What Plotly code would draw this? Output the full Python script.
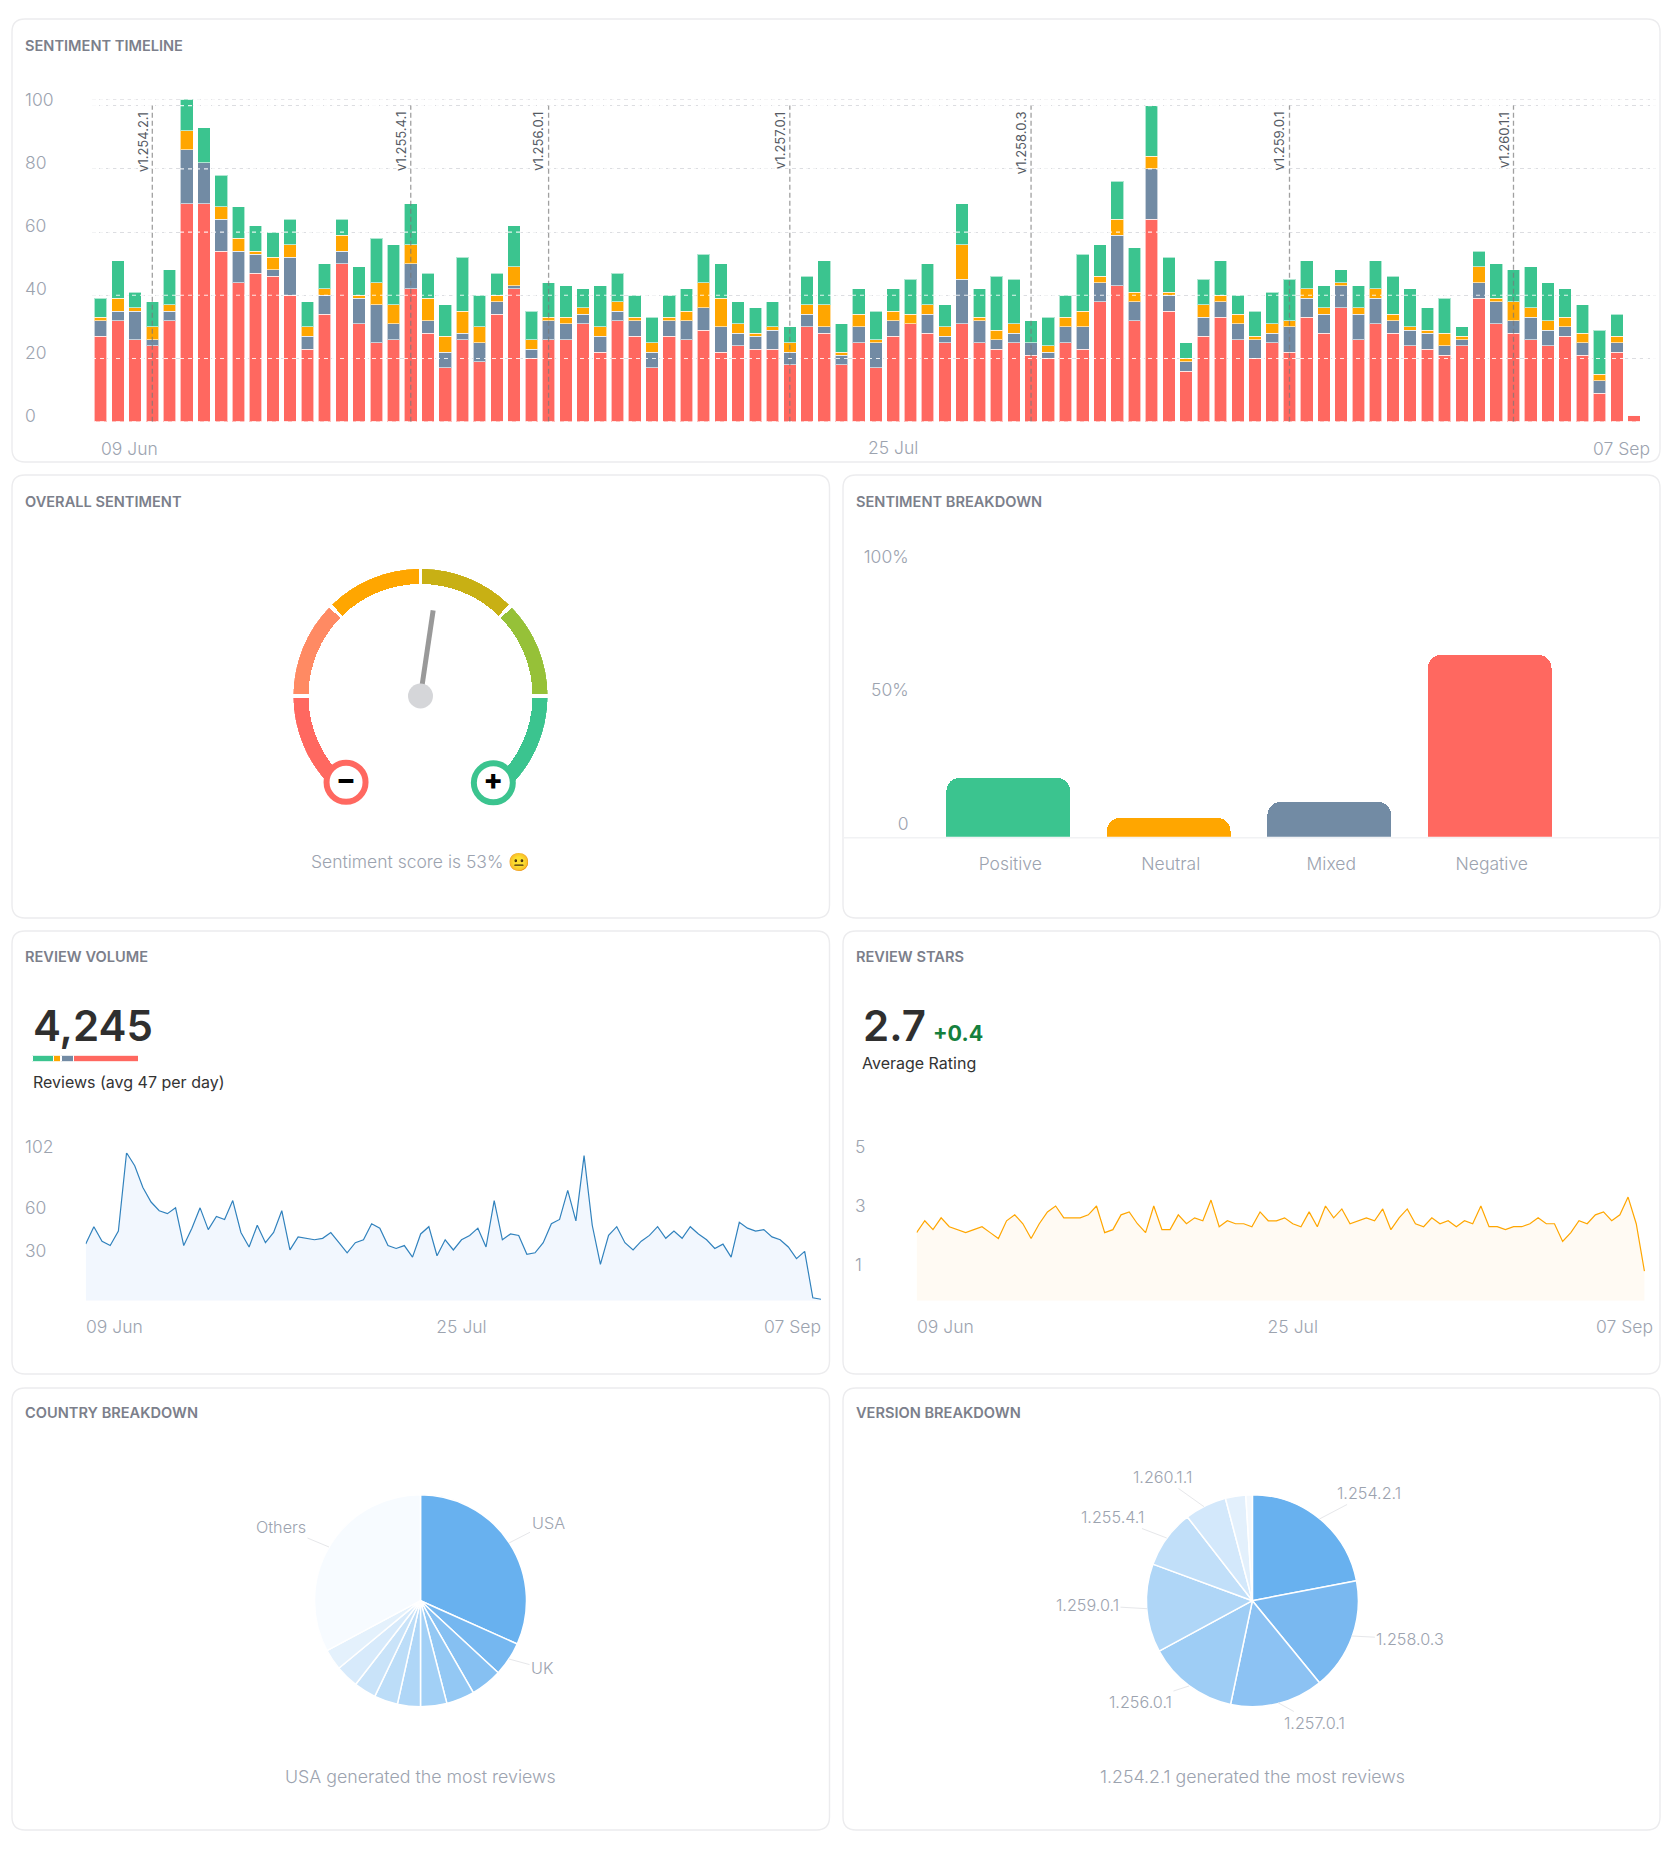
import pandas as pd
import plotly.graph_objects as go

W, H = 1678, 1858
FONT = "Inter"
C_POS, C_NEU, C_MIX, C_NEG = "#3bc48f", "#ffa600", "#728ba4", "#ff6860"
C_TICK, C_TITLE = "#9ca3af", "#7c7f8b"

# --- data -----------------------------------------------------------------
dates = pd.date_range("2024-06-09", "2024-09-07").strftime("%Y-%m-%d").tolist()
negative = [27,32,26,24,32,69,69,54,44,47,46,40,23,34,50,31,25,26,42,28,17,26,19,34,42,20,26,
            26,31,22,32,27,17,27,26,29,22,24,23,23,18,30,28,18,25,17,27,31,28,25,31,25,23,25,21,20,25,23,38,43,
            32,64,35,16,27,33,26,20,25,22,33,28,36,26,31,28,24,23,21,24,39,31,28,26,24,27,21,9,22,2]
mixed = [5,3,9,2,3,17,13,10,10,6,2,12,4,6,4,8,12,5,8,4,5,2,6,4,1,3,6,
         5,3,5,3,5,5,5,6,7,8,4,4,6,4,4,2,3,5,8,5,0,6,2,14,7,3,3,4,2,5,7,6,16,
         6,16,5,3,6,5,5,6,3,8,6,6,7,8,8,4,5,5,3,2,5,7,4,7,5,3,4,4,3,0]
neutral = [1,4,1,4,2,6,0,4,4,1,4,4,3,2,5,1,7,6,6,7,5,7,5,2,6,3,1,
           2,2,3,3,1,3,1,3,8,9,3,1,1,3,3,7,1,4,1,3,3,3,3,11,1,3,3,0,2,3,5,2,5,
           3,4,1,1,4,2,3,1,3,2,3,2,1,2,3,2,1,1,4,1,5,1,6,3,3,3,3,2,2,0]
positive = [6,12,5,8,11,10,11,10,10,8,8,8,8,8,5,9,14,19,13,8,10,17,10,7,13,9,11,
            10,6,13,9,7,8,7,7,9,11,7,8,8,5,9,14,9,8,9,7,11,13,7,13,9,17,14,7,9,7,18,10,12,
            14,16,11,5,8,11,6,8,10,13,9,7,4,7,9,12,12,7,11,3,5,11,10,13,12,9,9,14,7,0]
volume_last_day = [1]
volume = [a + b + c + d for a, b, c, d in zip(negative, mixed, neutral, positive)] + volume_last_day
stars = [2.3,2.7,2.4,2.8,2.5,2.4,2.3,2.4,2.5,2.3,2.1,2.7,2.9,2.6,2.1,2.6,3.0,3.2,2.8,2.8,2.8,2.9,3.2,2.3,2.4,
         2.9,3.0,2.6,2.3,3.2,2.4,2.4,2.9,2.6,2.8,2.7,3.4,2.5,2.7,2.6,2.6,2.5,3.0,2.7,2.7,2.8,2.6,2.5,3.0,2.5,
         3.2,2.8,3.1,2.6,2.7,2.8,2.7,3.1,2.4,2.8,3.1,2.6,2.5,2.8,2.6,2.7,2.5,2.7,2.6,3.2,2.5,2.5,2.4,2.5,2.5,
         2.6,2.8,2.6,2.6,2.0,2.3,2.7,2.6,2.9,3.0,2.7,2.9,3.5,2.6,1.0]
release_names = ["v1.254.2.1","v1.255.4.1","v1.256.0.1","v1.257.0.1","v1.258.0.3","v1.259.0.1","v1.260.1.1"]
release_dates = ["2024-06-12","2024-06-27","2024-07-05","2024-07-19","2024-08-02","2024-08-17","2024-08-30"]
timeline_ticks = [0,20,40,60,80,100,102]
timeline_ticktext = ["0","20","40","60","80","100",""]
breakdown_cats = ["Positive","Neutral","Mixed","Negative"]
breakdown_vals = [22,7,13,68]
share_vals = [20,7,12,61]
score = 53
gauge_segments = [50,45,45,45,45,50]
gauge_colors = [C_NEG,"#ff8a63",C_NEU,"#c8b014","#96c138",C_POS]
country_labels = ["USA","UK","c3","c4","c5","c6","c7","c8","c9","c10","Others"]
country_vals = [31.7,5.2,4.8,4.3,4.0,3.5,3.6,3.4,3.5,3.2,32.8]
country_colors = ["#68b1ef","#75b7f0","#86c0f2","#93c8f4","#a2d0f6","#afd6f7","#bcddf8","#c9e3f9","#d7eafb","#e4f1fc","#f7fbff"]
version_labels = ["1.254.2.1","1.258.0.3","1.257.0.1","1.256.0.1","1.259.0.1","1.255.4.1","1.260.1.1","v8","v9"]
version_vals = [22.0,17.1,14.2,13.8,13.5,8.9,6.4,3.1,1.0]
version_colors = ["#68b1ef","#79b8f0","#8cc2f3","#9ecdf5","#afd6f7","#c1dff9","#d3e8fb","#e3f0fc","#f4f9fe"]

# --- helpers --------------------------------------------------------------
def dx(a, b):
    return [a / W, b / W]
def dy(top, bot):
    return [1 - bot / H, 1 - top / H]
def px(v):
    return v / W
def py(v):
    return 1 - v / H
TICK = 17.5
def tfont(size=TICK, color=C_TICK, weight=300):
    return dict(family=FONT, size=size, color=color, weight=weight)

fig = go.Figure()
anns, shapes = [], []

def card(x0, x1, y0, y1, r=13):
    a, b, c, d = px(x0), px(x1), py(y0), py(y1)
    rx, ry = r / W, r / H
    path = (f"M {a+rx} {c} L {b-rx} {c} Q {b} {c} {b} {c-ry} L {b} {d+ry} Q {b} {d} {b-rx} {d} "
            f"L {a+rx} {d} Q {a} {d} {a} {d+ry} L {a} {c-ry} Q {a} {c} {a+rx} {c} Z")
    shapes.append(dict(type="path", path=path, xref="paper", yref="paper", layer="below",
                       line=dict(color="#ececee", width=1.4), fillcolor="white"))

def label(text, x, y, size=TICK, color=C_TICK, weight=300, anchor="left"):
    anns.append(dict(text=text, xref="paper", yref="paper", x=px(x), y=py(y), xanchor=anchor, yanchor="middle",
                     showarrow=False, font=tfont(size, color, weight)))

def edge_ticks(xref, y, first, last, right_shift=2):
    anns.append(dict(text="09 Jun", xref=xref, yref="paper", x=first, y=py(y), xanchor="left", yanchor="middle",
                     showarrow=False, font=tfont(), xshift=-2))
    anns.append(dict(text="07 Sep", xref=xref, yref="paper", x=last, y=py(y), xanchor="right", yanchor="middle",
                     showarrow=False, font=tfont(), xshift=right_shift))

def pie_label(text, cx, cy, tipx, tipy):
    anns.append(dict(text=text, xref="paper", yref="paper", x=px(tipx), y=py(tipy), ax=cx - tipx, ay=cy - tipy,
                     axref="pixel", ayref="pixel", showarrow=True, arrowhead=0, arrowwidth=1, arrowcolor="#e6e7ea",
                     standoff=0, startstandoff=0, font=tfont(16.2), borderpad=1))

# cards
for x0, x1, y0, y1 in [(12,1660,19,462),(12,829.5,475,918),(843,1660,475,918),(12,829.5,931,1374),
                       (843,1660,931,1374),(12,829.5,1388,1830),(843,1660,1388,1830)]:
    card(x0, x1, y0, y1)

# titles
for t, x, y in [("SENTIMENT TIMELINE",22.5,45.7),("OVERALL SENTIMENT",22.5,501.7),("SENTIMENT BREAKDOWN",854,501.7),
                ("REVIEW VOLUME",22.5,956.7),("REVIEW STARS",854,956.7),("COUNTRY BREAKDOWN",22.5,1412.7),
                ("VERSION BREAKDOWN",854,1412.7)]:
    label(t, x, y, 14.6, C_TITLE, 600)

# --- timeline -------------------------------------------------------------
shapes.append(dict(type="line", xref="x domain", x0=0, x1=1, yref="y", y0=102, y1=102, layer="below",
                   line=dict(color="#dcdde1", width=1.4, dash="4px,3px")))
BAR_W = 12.6 / 17.23 * 86400000
for name, vals, col in [("Negative",negative,C_NEG),("Mixed",mixed,C_MIX),("Neutral",neutral,C_NEU),("Positive",positive,C_POS)]:
    fig.add_bar(x=dates[:90], y=vals, name=name, width=BAR_W, xaxis="x", yaxis="y",
                marker=dict(color=col, line=dict(color="rgba(255,255,255,0.6)", width=1)), showlegend=False)
for v in timeline_ticks:
    shapes.append(dict(type="line", xref="x domain", x0=0, x1=1, yref="y", y0=v, y1=v, layer="above",
                       line=dict(color="rgba(255,255,255,0.85)", width=1.2, dash="4px,4px")))
for nm, d in zip(release_names, release_dates):
    shapes.append(dict(type="line", xref="x", x0=d, x1=d, yref="y", y0=0, y1=100, layer="above",
                       line=dict(color="rgba(120,120,120,0.7)", width=1.3, dash="5px,3px")))
    anns.append(dict(text=nm, xref="x", yref="y", x=d, y=100, xanchor="right", yanchor="top", textangle=-90,
                     showarrow=False, font=tfont(13, "#555a63", 400), xshift=0, yshift=-4))
edge_ticks("x", 448, dates[0], dates[-1], right_shift=1)

# --- gauge ----------------------------------------------------------------
GAUGE_START, GAUGE_SPAN, GAP = 230, 280, 1.7
cum, centers, widths = 0, [], []
for s in gauge_segments:
    centers.append(GAUGE_START - cum - s / 2)
    widths.append(s - GAP)
    cum += s
fig.add_barpolar(r=[0.12] * 6, base=[0.88] * 6, theta=centers, width=widths, subplot="polar",
                 marker=dict(color=gauge_colors, line=dict(width=0)), showlegend=False)
needle_theta = GAUGE_START - score / 100 * GAUGE_SPAN
fig.add_scatterpolar(r=[0, 0.68], theta=[needle_theta, needle_theta], mode="lines", subplot="polar",
                     line=dict(color="#999999", width=5), showlegend=False)
fig.add_scatterpolar(r=[0], theta=[0], mode="markers", subplot="polar",
                     marker=dict(color="#d5d6d9", size=25), showlegend=False)
fig.add_scatterpolar(r=[0.895, 0.89], theta=[GAUGE_START - 0.8, GAUGE_START - GAUGE_SPAN], mode="markers+text", subplot="polar",
                     text=["\u2212", "+"], textposition="middle center",
                     textfont=dict(family=FONT, size=29, color="#000000", weight=800),
                     marker=dict(color="white", size=39, line=dict(color=[C_NEG, C_POS], width=6)), showlegend=False)
label("Sentiment score is 53% \U0001F610", 420.5, 861, anchor="center")

# --- breakdown ------------------------------------------------------------
fig.add_bar(x=breakdown_cats, y=breakdown_vals, width=0.77, xaxis="x2", yaxis="y2", showlegend=False,
            marker=dict(color=[C_POS, C_NEU, C_MIX, C_NEG], cornerradius=13, line=dict(width=0)))
shapes.append(dict(type="line", xref="paper", yref="paper", x0=px(843), x1=px(1660), y0=py(837.7), y1=py(837.7),
                   layer="below", line=dict(color="#f1f2f4", width=1.5)))

# --- volume ---------------------------------------------------------------
fig.add_scatter(x=dates, y=volume, mode="lines", xaxis="x3", yaxis="y3", showlegend=False,
                line=dict(color="#3182bd", width=1.2), fill="tozeroy", fillcolor="#f2f7fe")
edge_ticks("x3", 1326.5, dates[0], dates[-1])
label("4,245", 31, 1025.7, 42, "#2f2f2f", 600)
label("Reviews (avg 47 per day)", 30.5, 1081.7, 16, "#333333", 400)
for v, col in zip(share_vals, [C_POS, C_NEU, C_MIX, C_NEG]):
    fig.add_bar(x=[v], y=[0], orientation="h", width=1, xaxis="x5", yaxis="y5", showlegend=False,
                marker=dict(color=col, cornerradius=2, line=dict(color="white", width=1.5)))

# --- stars ----------------------------------------------------------------
fig.add_scatter(x=dates[:90], y=stars, mode="lines", xaxis="x4", yaxis="y4", showlegend=False,
                line=dict(color=C_NEU, width=1.2), fill="tozeroy", fillcolor="#fffaf3")
edge_ticks("x4", 1326.5, dates[0], dates[-1])
label("2.7", 861, 1025.7, 42, "#2f2f2f", 600)
label("+0.4", 931, 1033, 21.5, "#15803d", 700)
label("Average Rating", 860, 1062.7, 16, "#333333", 400)

# --- pies -----------------------------------------------------------------
R = 106
fig.add_pie(labels=country_labels, values=country_vals, sort=False, direction="clockwise", rotation=0, textinfo="none",
            domain=dict(x=dx(420.5 - R, 420.5 + R), y=dy(1600.7 - R, 1600.7 + R)), showlegend=False,
            marker=dict(colors=country_colors, line=dict(color="white", width=1.5)))
fig.add_pie(labels=version_labels, values=version_vals, sort=False, direction="clockwise", rotation=0, textinfo="none",
            domain=dict(x=dx(1252.4 - R, 1252.4 + R), y=dy(1600.7 - R, 1600.7 + R)), showlegend=False,
            marker=dict(colors=version_colors, line=dict(color="white", width=1.5)))
for t, cx, cy, tx, ty in [("USA",548,1523,509,1543),("UK",542,1668,509,1659),("Others",281,1527,329,1547),
                          ("1.254.2.1",1369,1493,1319.4,1519),("1.258.0.3",1410.4,1639,1351.5,1636),
                          ("1.257.0.1",1314.6,1723,1278,1702.7),("1.256.0.1",1140.5,1701.7,1189,1686),
                          ("1.259.0.1",1087.5,1605.3,1147,1608.7),("1.255.4.1",1112,1517,1166.7,1538),
                          ("1.260.1.1",1162.4,1477,1204,1506.7)]:
    pie_label(t, cx, cy, tx, ty)
label("USA generated the most reviews", 420.5, 1776, 17.8, anchor="center")
label("1.254.2.1 generated the most reviews", 1252.4, 1776, 17.8, anchor="center")

# --- axes -----------------------------------------------------------------
def xdate(a, b, lo, hi, standoff, shift=0):
    return dict(domain=dx(a, b), type="date", range=[lo, hi], tickvals=["2024-07-25"], ticktext=["25 Jul"],
                showgrid=False, zeroline=False, showline=False, ticks="", tickfont=tfont(), ticklabelstandoff=standoff,
                ticklabelshift=shift, automargin=False)
def yfree(top, bot, rng, vals, text, pos, side="right", shift=-6, **kw):
    return dict(domain=dy(top, bot), range=rng, tickvals=vals, ticktext=text, anchor="free", position=px(pos), side=side,
                ticklabelposition="outside", ticklabelshift=shift, showgrid=False, zeroline=False, showline=False, ticks="",
                tickfont=tfont(), automargin=False, **kw)

fig.update_layout(
    template="none",
    width=W, height=H, autosize=False, margin=dict(l=0, r=0, t=0, b=0, pad=0), paper_bgcolor="white", plot_bgcolor="rgba(0,0,0,0)",
    barmode="stack", hovermode=False, showlegend=False, font=dict(family=FONT),
    xaxis=xdate(92, 1656, "2024-06-08 12:00", "2024-09-07 06:30", 14, shift=0),
    yaxis=dict(yfree(99.3, 421.7, [0, 102], timeline_ticks, timeline_ticktext, 24), showgrid=True,
               gridcolor="#dcdde1", griddash="4px,3px", gridwidth=1.4),
    xaxis2=dict(domain=dx(928, 1570), type="category", categoryorder="array", categoryarray=breakdown_cats, range=[-0.5, 3.5],
                showgrid=False, zeroline=False, showline=False, ticks="", tickfont=tfont(), ticklabelstandoff=15,
                ticklabelshift=2, anchor="y2", automargin=False),
    yaxis2=yfree(569.4, 836.7, [0, 100], [0, 50, 100], ["0", "50%", "100%"], 908.6, side="left", shift=-13),
    xaxis3=dict(xdate(85.7, 821, dates[0], dates[-1], 14), anchor="y3"),
    yaxis3=yfree(1152.7, 1300.7, [0, 102], [30, 60, 102], ["30", "60", "102"], 24),
    xaxis4=dict(xdate(916.6, 1652.6, dates[0], dates[-1], 14), anchor="y4"),
    yaxis4=yfree(1152.7, 1300.7, [0, 5], [1, 3, 5], ["1", "3", "5"], 854),
    xaxis5=dict(domain=dx(32, 139), range=[0, 100], visible=False, anchor="y5", automargin=False),
    yaxis5=dict(domain=dy(1055.2, 1061.8), range=[-0.5, 0.5], visible=False, anchor="x5", automargin=False),
    polar=dict(domain=dict(x=dx(420.5 - 127.3, 420.5 + 127.3), y=dy(696 - 127.3, 696 + 127.3)), bgcolor="rgba(0,0,0,0)",
               radialaxis=dict(visible=False, range=[0, 1]),
               angularaxis=dict(visible=False, direction="counterclockwise", rotation=0)),
    shapes=shapes, annotations=anns,
)
fig.write_html("out.html", config=dict(displayModeBar=False),
               post_script=("document.body.style.margin='0';document.documentElement.style.margin='0';"
                            "var d=document.querySelector('.plotly-graph-div');d.style.position='absolute';"
                            "d.style.top='0';d.style.left='0';document.body.style.overflow='hidden';"))
